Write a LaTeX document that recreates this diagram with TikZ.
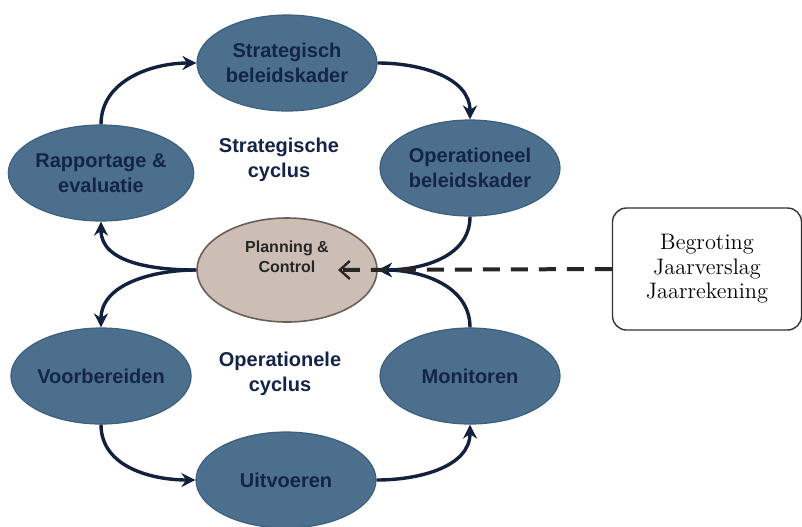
\documentclass[tikz,border=0pt]{standalone}
\usepackage{fontspec}
\setsansfont{Liberation Sans}
\usetikzlibrary{shapes.geometric,arrows.meta}
\definecolor{cycfill}{RGB}{75,111,140}
\definecolor{cycline}{RGB}{62,96,126}
\definecolor{cyctext}{RGB}{20,36,72}
\definecolor{pcfill}{RGB}{204,190,180}
\definecolor{pcline}{RGB}{105,95,90}
\definecolor{flow}{RGB}{18,34,62}
\tikzset{
  phase/.style={ellipse,draw=cycline,fill=cycfill,line width=0.6pt,
    minimum width=90pt,minimum height=48pt,inner sep=0pt,align=center,
    text=cyctext,font=\sffamily\bfseries\fontsize{10}{12.5}\selectfont},
  cyclename/.style={align=center,text=cyctext,
    font=\sffamily\bfseries\fontsize{10}{12.5}\selectfont},
  flow/.style={draw=flow,line width=1.7pt,-{Stealth[length=7pt,width=7pt]}}
}
\begin{document}
\begin{tikzpicture}[x=0.5pt,y=-0.5pt]
  \useasboundingbox (0,0) rectangle (802,526);
  \draw
    (287,63) node[phase] (sbk){Strategisch\\beleidskader}
    (470,168) node[phase] (obk){Operationeel\\beleidskader}
    (101,173) node[phase] (re){Rapportage \&\\evaluatie}
    (101,376) node[phase] (vb){Voorbereiden}
    (470,376) node[phase] (mon){Monitoren}
    (286,480) node[phase] (uit){Uitvoeren};
  \node[ellipse,draw=pcline,fill=pcfill,line width=0.8pt,
    minimum width=90pt,minimum height=52pt] (pc) at (287,270) {};
  \node[align=center,text=black!85,font=\sffamily\bfseries\fontsize{8}{10}\selectfont]
    (pclabel) at (287,257) {Planning \&\\Control};
  \node[cyclename] (sc) at (279,160) {Strategische\\cyclus};
  \node[cyclename] (oc) at (280,374) {Operationele\\cyclus};
  \node[draw=black!80,line width=0.7pt,rounded corners=7pt,
    minimum width=94.5pt,minimum height=61pt,align=center,
    font=\fontsize{11.2}{12.3}\selectfont] (docs) at (707,269)
    {Begroting\\Jaarverslag\\Jaarrekening};
  \coordinate (pctip) at (338,270);
  \begin{scope}[flow]
    \draw (re.north) to[out=90,in=180] (sbk.west);
    \draw (sbk.east) to[out=0,in=90] (obk.north);
    \draw (obk.south) to[out=-90,in=0] (pc.east);
    \draw (mon.north) to[out=90,in=0] (pc.east);
    \draw (pc.west) to[out=180,in=-90] (re.south);
    \draw (pc.west) to[out=180,in=90] (vb.north);
    \draw (vb.south) to[out=-90,in=180] (uit.west);
    \draw (uit.east) to[out=0,in=-90] (mon.south);
  \end{scope}
  \draw[black!85,line width=2pt,dash pattern=on 8.5pt off 5.5pt,
    -{Straight Barb[length=5pt,width=9pt,line width=1.2pt]}] (docs.west) -- (pctip);
\end{tikzpicture}
\end{document}
